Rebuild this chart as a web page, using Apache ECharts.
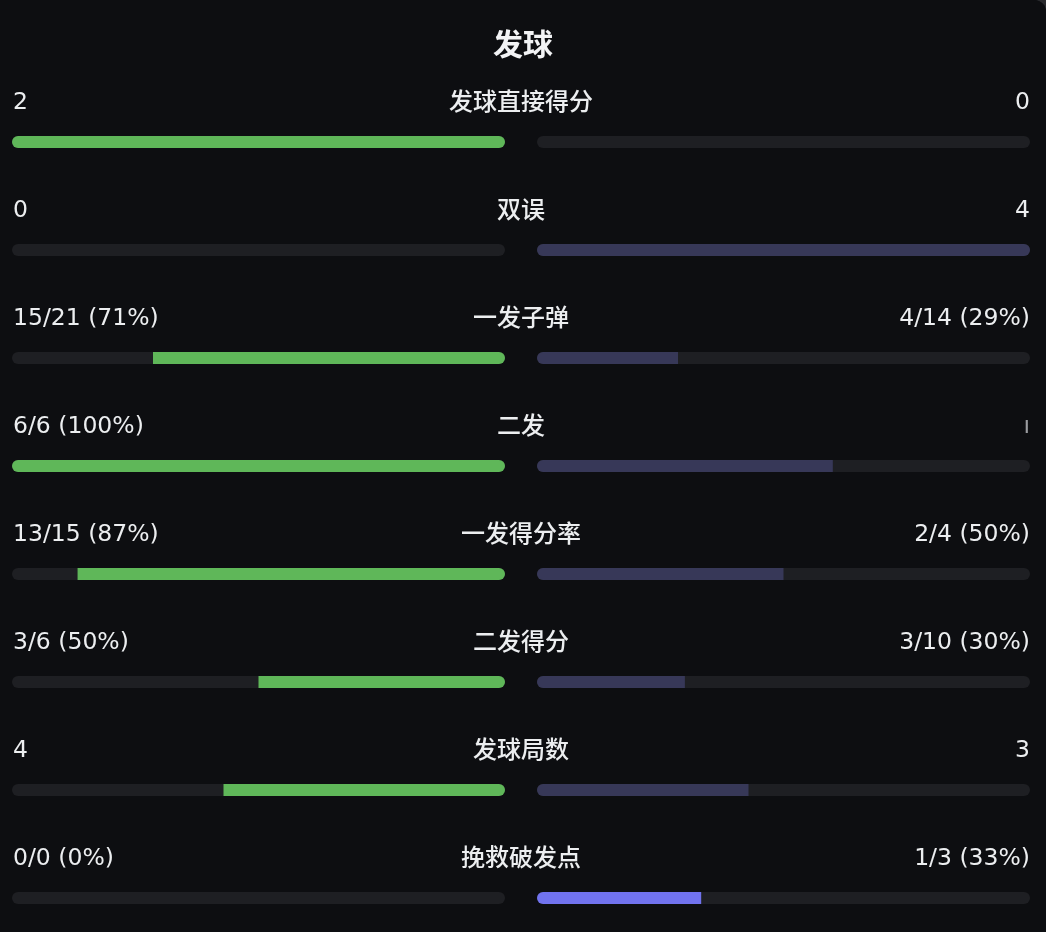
<!DOCTYPE html>
<html>
<head>
<meta charset="utf-8">
<script src="https://cdn.jsdelivr.net/npm/echarts@6/dist/echarts.min.js"></script>
<style>
  html, body { margin: 0; padding: 0; background: #2a2b2e; }
  #chart { width: 1046px; height: 932px; background: #0d0e11; border-top-right-radius: 12px; overflow: hidden; }
</style>
</head>
<body>
<div id="chart"></div>
<script>
var title = '发球';
var categories = ['发球直接得分', '双误', '一发子弹', '二发', '一发得分率', '二发得分', '发球局数', '挽救破发点'];
var leftLabels = ['2', '0', '15/21 (71%)', '6/6 (100%)', '13/15 (87%)', '3/6 (50%)', '4', '0/0 (0%)'];
var rightLabels = ['0', '4', '4/14 (29%)', 'ı', '2/4 (50%)', '3/10 (30%)', '3', '1/3 (33%)'];
var leftShare = [1, 0, 0.714, 1, 0.867, 0.5, 0.571, 0];
var rightShare = [0, 1, 0.286, 0.6, 0.5, 0.3, 0.429, 0.333];
var rightHighlight = [false, false, false, false, false, false, false, true];

var NUM_FONT = "'DejaVu Sans', 'Noto Sans CJK SC', sans-serif";
var CJK_FONT = "'Noto Sans CJK SC', sans-serif";
var TEXT = '#eceef0';
var TRACK = '#1e1f23';
var GREEN = '#5fb759';
var SLATE = '#373858';
var VIOLET = '#7173ef';

function makeRender(side) {
  return function (params, api) {
    var i = api.value(1);
    var v = api.value(0);
    var p0 = api.coord([0, i]);
    var p1 = api.coord([1, i]);
    var pv = api.coord([v, i]);
    var yc = p0[1];
    var h = 12;
    var children = [];
    var xa = Math.min(p0[0], p1[0]), xb = Math.max(p0[0], p1[0]);
    children.push({ type: 'rect', shape: { x: xa, y: yc - h / 2, width: xb - xa, height: h, r: h / 2 }, style: { fill: TRACK } });
    if (v > 0) {
      var fa = Math.min(p0[0], pv[0]), fb = Math.max(p0[0], pv[0]);
      var r;
      if (v >= 1) r = h / 2;
      else if (side === 'left') r = [0, h / 2, h / 2, 0];
      else r = [h / 2, 0, 0, h / 2];
      var col = side === 'left' ? GREEN : (rightHighlight[i] ? VIOLET : SLATE);
      children.push({ type: 'rect', shape: { x: fa, y: yc - h / 2, width: fb - fa, height: h, r: r }, style: { fill: col } });
    }
    var ty = yc - 39;
    if (side === 'left') {
      children.push({ type: 'text', style: { text: leftLabels[i], x: p1[0] + 1, y: ty, align: 'left', verticalAlign: 'middle', fill: TEXT, font: '400 23.5px ' + NUM_FONT } });
      children.push({ type: 'text', style: { text: categories[i], x: p0[0] + 16, y: ty - 2, align: 'center', verticalAlign: 'middle', fill: TEXT, font: '500 24px ' + CJK_FONT } });
    } else {
      children.push({ type: 'text', style: { text: rightLabels[i], x: p1[0], y: ty, align: 'right', verticalAlign: 'middle', fill: rightLabels[i] === 'ı' ? '#9a9ca0' : TEXT, font: '400 23.5px ' + NUM_FONT } });
    }
    return { type: 'group', children: children };
  };
}

var chart = echarts.init(document.getElementById('chart'), null, { renderer: 'canvas' });
var leftData = leftShare.map(function (v, i) { return [v, i]; });
var rightData = rightShare.map(function (v, i) { return [v, i]; });

// value y-axis: 108px per row, first row centred at y=142
var yMin = -142 / 108;
var yMax = yMin + 932 / 108;

chart.setOption({
  backgroundColor: '#0d0e11',
  animation: false,
  title: {
    text: title, left: 'center', top: 24,
    textStyle: { color: '#f2f3f5', fontSize: 30, fontWeight: 'bold', fontFamily: CJK_FONT }
  },
  grid: [
    { left: 12, width: 493, top: 0, bottom: 0 },
    { left: 537, width: 493, top: 0, bottom: 0 }
  ],
  xAxis: [
    { gridIndex: 0, type: 'value', min: 0, max: 1, inverse: true, show: false },
    { gridIndex: 1, type: 'value', min: 0, max: 1, show: false }
  ],
  yAxis: [
    { gridIndex: 0, type: 'value', min: yMin, max: yMax, inverse: true, show: false },
    { gridIndex: 1, type: 'value', min: yMin, max: yMax, inverse: true, show: false }
  ],
  series: [
    { type: 'custom', xAxisIndex: 0, yAxisIndex: 0, data: leftData, encode: { x: 0, y: 1 }, renderItem: makeRender('left'), clip: false },
    { type: 'custom', xAxisIndex: 1, yAxisIndex: 1, data: rightData, encode: { x: 0, y: 1 }, renderItem: makeRender('right'), clip: false }
  ]
});
</script>
</body>
</html>
